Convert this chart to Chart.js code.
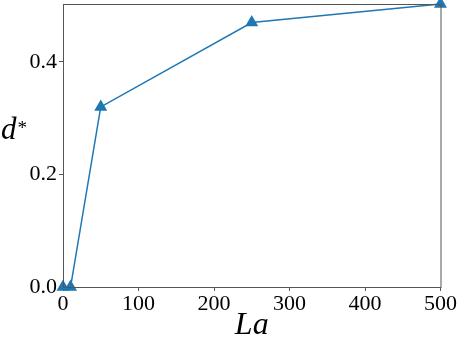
<!DOCTYPE html>
<html>
<head>
<meta charset="utf-8">
<script src="https://cdn.jsdelivr.net/npm/chart.js@4/dist/chart.umd.min.js"></script>
<style>
  html, body { margin: 0; padding: 0; background: #fff; }
  #wrap { width: 457px; height: 339px; position: relative; }
</style>
</head>
<body>
<div id="wrap"><canvas id="dChart"></canvas></div>
<script>
const laValues = [0, 10, 50, 250, 500];
const dStar = [0, 0, 0.32, 0.47, 0.503];
const xTicks = [0, 100, 200, 300, 400, 500];
const yTicks = [0, 0.2, 0.4];

const serif = '"Liberation Serif", "DejaVu Serif", serif';
const axisColor = '#555';

// frame + axis titles drawn by hand so they sit like matplotlib's
const extras = {
    id: 'extras',
    afterDraw(chart) {
        const { ctx, chartArea: a } = chart;
        ctx.save();
        ctx.strokeStyle = axisColor;
        ctx.lineWidth = 1;
        ctx.strokeRect(a.left + 0.5, a.top + 0.5, a.right - a.left, a.bottom - a.top);
        ctx.fillStyle = '#000';
        ctx.textBaseline = 'alphabetic';
        ctx.textAlign = 'center';
        ctx.font = 'italic 32px ' + serif;
        ctx.fillText('La', (a.left + a.right) / 2, 334);
        ctx.textAlign = 'left';
        ctx.font = 'italic 31px ' + serif;
        ctx.fillText('d', 1, 139);
        const dw = ctx.measureText('d').width;
        ctx.font = '19px ' + serif;
        ctx.fillText('*', 2 + dw, 134);
        ctx.restore();
    }
};

const ctx = document.getElementById('dChart').getContext('2d');
const chart = new Chart(ctx, {
    type: 'scatter',
    data: {
        datasets: [{
            data: laValues.map((v, i) => ({ x: v, y: dStar[i] })),
            showLine: true,
            borderColor: '#1f77b4',
            backgroundColor: '#1f77b4',
            borderWidth: 1.5,
            pointStyle: 'triangle',
            pointRadius: 6,
            pointHoverRadius: 6,
            clip: false
        }]
    },
    options: {
        responsive: true,
        maintainAspectRatio: false,
        animation: false,
        layout: { autoPadding: false, padding: { top: 4, right: 16, left: 0, bottom: 0 } },
        plugins: { legend: { display: false }, tooltip: { enabled: false } },
        scales: {
            x: {
                type: 'linear',
                min: 0,
                max: 500,
                afterBuildTicks: s => { s.ticks = xTicks.map(v => ({ value: v })); },
                afterFit: s => { s.height = 52; },
                grid: { drawOnChartArea: false, tickLength: 4, color: axisColor },
                border: { color: axisColor },
                ticks: {
                    color: '#000',
                    padding: 0,
                    maxRotation: 0,
                    font: { family: serif, size: 22 }
                }
            },
            y: {
                type: 'linear',
                min: 0,
                max: 0.503,
                afterBuildTicks: s => { s.ticks = yTicks.map(v => ({ value: v })); },
                afterFit: s => { s.width = 63; s.paddingTop = 0; s.paddingBottom = 0; },
                grid: { drawOnChartArea: false, tickLength: 4, color: axisColor },
                border: { color: axisColor },
                ticks: {
                    color: '#000',
                    padding: 2,
                    callback: v => v.toFixed(1),
                    font: { family: serif, size: 22 }
                }
            }
        }
    },
    plugins: [extras]
});
</script>
</body>
</html>
